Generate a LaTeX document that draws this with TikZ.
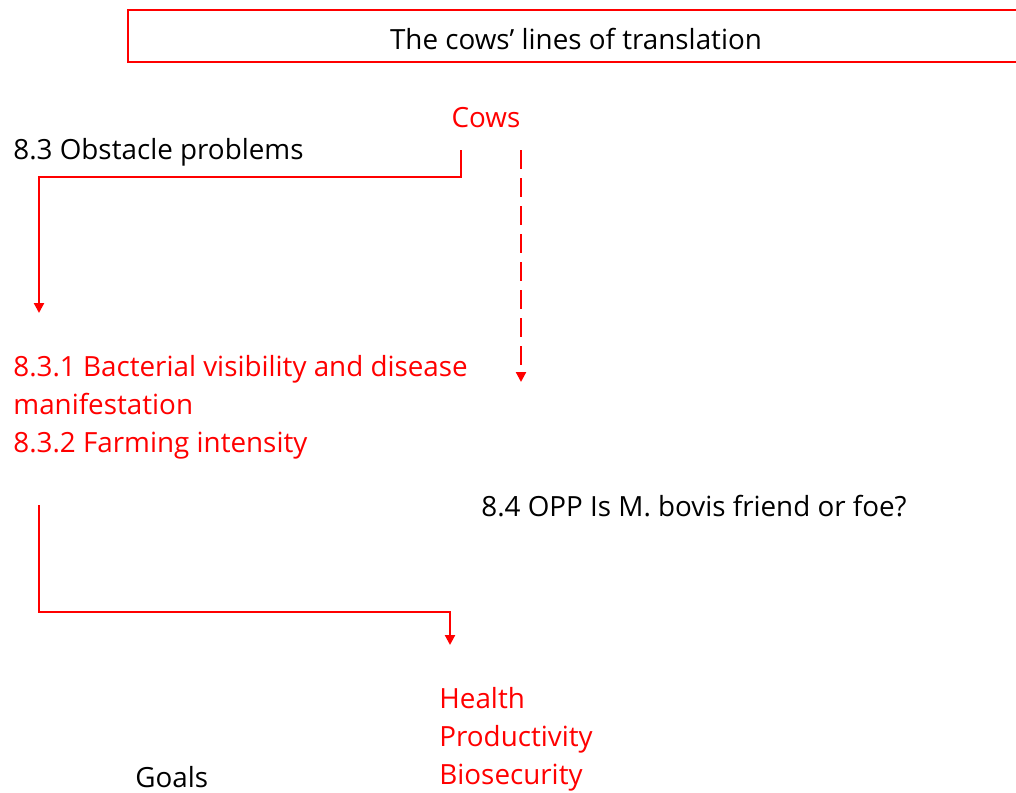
\documentclass[tikz,border=0pt]{standalone}
\usepackage{fontspec}
\setmainfont{Open Sans}
\usepackage{xcolor}
\usetikzlibrary{arrows.meta,positioning}
\definecolor{cowred}{RGB}{255,0,0}

\begin{document}
\begin{tikzpicture}[
      x=0.5pt, y=-0.5pt,
      txt/.style={inner sep=0pt, anchor=west, align=left, font=\fontsize{13.9}{19}\selectfont},
      redtxt/.style={txt, text=cowred},
      arr/.style={-{Triangle[width=5pt,length=5pt]}, draw=cowred, line width=1.1pt},
      dasharr/.style={arr, dash pattern=on 9.5pt off 4.5pt}
    ]
      \useasboundingbox (0,0) rectangle (1016,792);

      % title
      \draw[cowred, line width=1pt] (128,10) rectangle (1040,62);
      \node[txt, anchor=center] (title) at (576,39) {The cows’ lines of translation};

      \node[redtxt, anchor=center] (cows) at (486,118) {Cows};
      \node[txt] (obst) at (13,152) {8.3 Obstacle problems};
      \node[redtxt] (sub) at (13,407) {8.3.1 Bacterial visibility and disease\\manifestation\\8.3.2 Farming intensity};
      \node[txt] (opp) at (481,506) {8.4 OPP Is M. bovis friend or foe?};
      \node[redtxt] (goalsl) at (439,739) {Health\\Productivity\\Biosecurity};
      \node[txt] (goals) at (135,777) {Goals};

      \coordinate (a1) at (461,150);
      \coordinate (a2) at (39,313);
      \coordinate (b1) at (521,150);
      \coordinate (b2) at (521,382);
      \coordinate (c1) at (39,505);
      \coordinate (c2) at (450,645);

      \draw[arr] (a1) -- (a1 |- 0,177) -- (a2 |- 0,177) -- (a2);
      \draw[dasharr] (b1) -- (b2);
      \draw[arr] (c1) -- (c1 |- 0,612) -- (c2 |- 0,612) -- (c2);
    \end{tikzpicture}
\end{document}
